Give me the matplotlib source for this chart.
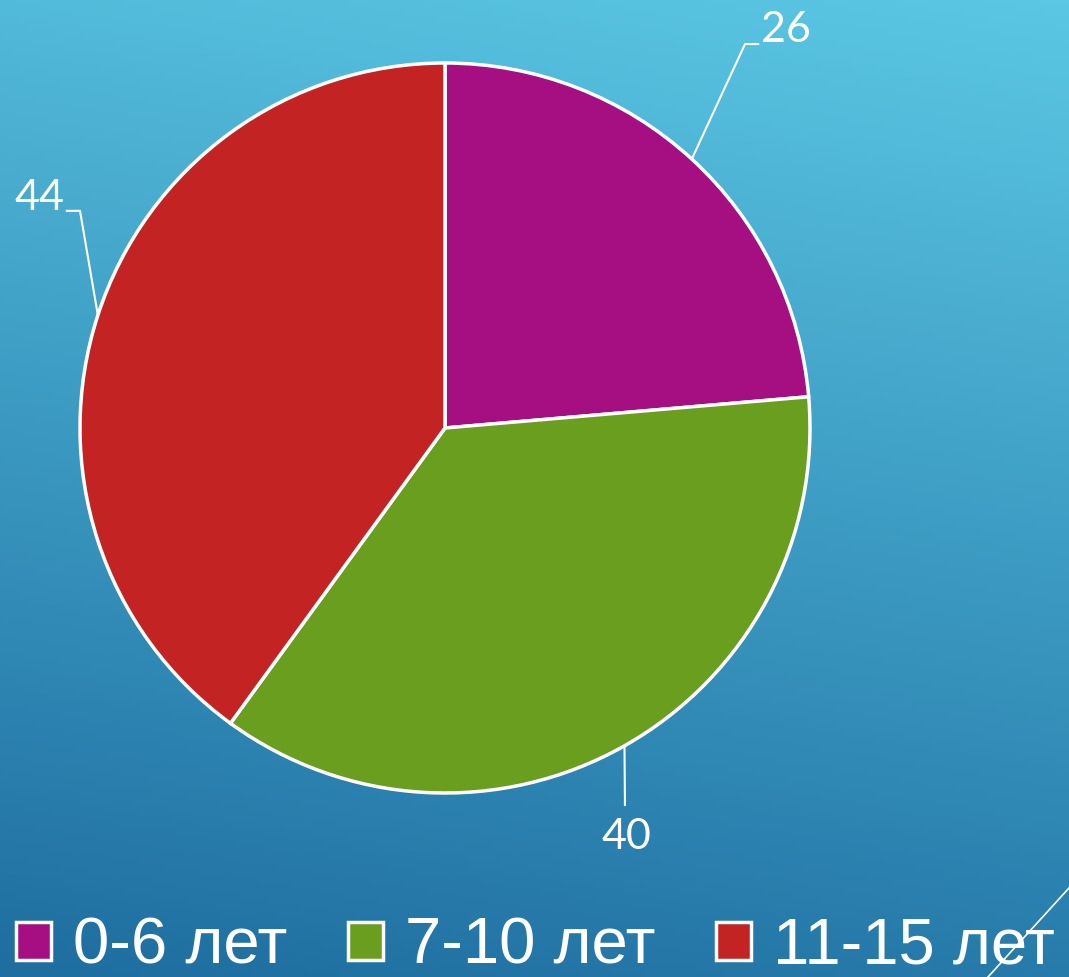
import numpy as np
import matplotlib.pyplot as plt
from matplotlib.colors import LinearSegmentedColormap
from matplotlib.patches import Patch

# данные
labels = ['0-6 лет', '7-10 лет', '11-15 лет']
values = [26, 40, 44]
colors = ['#A50F82', '#6A9E1F', '#C42323']

# смещения подписей (в радиусах): излом линии, конец линии, центр текста
label_elbow = [(0.822, 1.052), (0.493, -1.033), (-1.0, 0.595)]
label_end = [(0.858, 1.052), (0.493, -1.033), (-1.036, 0.595)]
label_text = [(0.935, 1.09), (0.496, -1.12), (-1.11, 0.63)]

W, H, DPI = 1069, 977, 100
fig = plt.figure(figsize=(W / DPI, H / DPI), dpi=DPI)

# фон: градиент
bg = fig.add_axes([0, 0, 1, 1], zorder=0)
yy, xx = np.mgrid[0:1:200j, 0:1:200j]
t = 0.85 * yy + 0.15 * (1 - xx)
cmap = LinearSegmentedColormap.from_list('bg', ['#5BC7E4', '#1E6EA0'])
bg.imshow(t, cmap=cmap, aspect='auto', extent=[0, 1, 0, 1], origin='upper')
bg.plot([988 / W, 1.0], [0.0, 1 - 888 / H], color='white', lw=1.2)
bg.set_xlim(0, 1)
bg.set_ylim(0, 1)
bg.axis('off')

# круговая диаграмма: центр (445, 428), радиус 365 px
cx, cy, r, pad = 445, 428, 365, 1.02
ax = fig.add_axes([(cx - r * pad) / W, 1 - (cy + r * pad) / H,
                   2 * r * pad / W, 2 * r * pad / H], zorder=1)
ax.patch.set_alpha(0)
wedges, _ = ax.pie(values, colors=colors, startangle=90, counterclock=False,
                   radius=1, wedgeprops=dict(edgecolor='white', linewidth=2.5))
ax.set_xlim(-pad, pad)
ax.set_ylim(-pad, pad)
ax.set_aspect('equal')
ax.axis('off')

for w, v, el, en, tx in zip(wedges, values, label_elbow, label_end, label_text):
    ang = np.deg2rad((w.theta1 + w.theta2) / 2)
    x0, y0 = np.cos(ang), np.sin(ang)
    ax.plot([x0, el[0], en[0]], [y0, el[1], en[1]], color='white', lw=1.5,
            clip_on=False, zorder=0)
    ax.text(tx[0], tx[1], str(v), color='white', fontsize=31, ha='center', va='center',
            family=['Lato', 'DejaVu Sans'], fontweight='normal', clip_on=False)

# легенда
handles = [Patch(facecolor=c, edgecolor='white', linewidth=2.5) for c in colors]
leg = fig.legend(handles, labels, loc='lower left', bbox_to_anchor=(-0.003, -0.02), ncol=3,
                 frameon=False, handlelength=0.53, handleheight=0.53, handletextpad=0.34,
                 columnspacing=0.93, borderaxespad=0.0, borderpad=0.3,
                 prop=dict(family=['Liberation Sans', 'DejaVu Sans'], size=47))
for txt in leg.get_texts():
    txt.set_color('white')

fig.savefig('out.png', dpi=DPI)
